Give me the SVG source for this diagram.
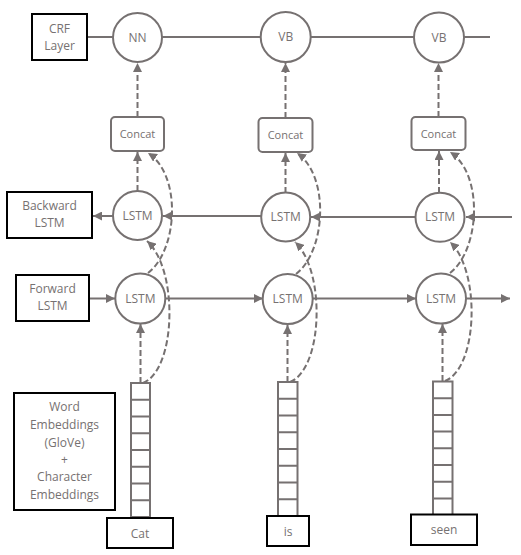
<svg xmlns="http://www.w3.org/2000/svg" width="521" height="555" viewBox="0 0 521 555">
<defs>
<style>
.ln{stroke:#767171;stroke-width:2;fill:none}
.dl{stroke:#767171;stroke-width:2;fill:none;stroke-dasharray:6,3}
.nd{stroke:#767171;stroke-width:2;fill:#fff}
.lb{stroke:#000;stroke-width:2;fill:#fff}
.tx{font-family:"Open Sans","Noto Sans",sans-serif;font-size:12px;fill:#767171;text-anchor:middle}
.ts{font-family:"Open Sans","Noto Sans",sans-serif;font-size:11px;fill:#767171;text-anchor:middle}
.emb{stroke:#767171;stroke-width:2;fill:#fff}
</style>
<marker id="ah" viewBox="0 0 10 10" refX="10" refY="5" markerWidth="9" markerHeight="9" markerUnits="userSpaceOnUse" orient="auto">
<path d="M0,0 L10,5 L0,10 z" fill="#767171"/>
</marker>
</defs>
<rect width="521" height="555" fill="#fff"/>
<g id="connectors">
<line class="ln" x1="87" y1="37" x2="490" y2="37"/>
<line class="ln" x1="512" y1="217" x2="466" y2="217" marker-end="url(#ah)"/>
<line class="ln" x1="415" y1="217" x2="311" y2="217" marker-end="url(#ah)"/>
<line class="ln" x1="261" y1="216" x2="163" y2="216" marker-end="url(#ah)"/>
<line class="ln" x1="113" y1="216" x2="93" y2="216" marker-end="url(#ah)"/>
<line class="ln" x1="89" y1="298.5" x2="115" y2="298.5" marker-end="url(#ah)"/>
<line class="ln" x1="165" y1="298.5" x2="263" y2="298.5" marker-end="url(#ah)"/>
<line class="ln" x1="313" y1="298.5" x2="416" y2="298.5" marker-end="url(#ah)"/>
<line class="ln" x1="466" y1="298.5" x2="510" y2="298.5" marker-end="url(#ah)"/>
<line class="dl" x1="137.5" y1="117" x2="137.5" y2="63" marker-end="url(#ah)"/>
<line class="dl" x1="285.5" y1="118" x2="285.5" y2="63" marker-end="url(#ah)"/>
<line class="dl" x1="438.5" y1="117" x2="438.5" y2="63" marker-end="url(#ah)"/>
<line class="dl" x1="137.5" y1="191" x2="137.5" y2="152" marker-end="url(#ah)"/>
<line class="dl" x1="285.5" y1="193" x2="285.5" y2="153" marker-end="url(#ah)"/>
<line class="dl" x1="439" y1="193" x2="439" y2="151" marker-end="url(#ah)"/>
<line class="dl" x1="140.5" y1="383" x2="140.5" y2="324" marker-end="url(#ah)"/>
<line class="dl" x1="287.5" y1="382" x2="287.5" y2="325" marker-end="url(#ah)"/>
<line class="dl" x1="442.5" y1="381" x2="442.5" y2="324" marker-end="url(#ah)"/>
<path class="dl" d="M143,383 C176,370 179,270 147,241" marker-end="url(#ah)"/>
<path class="dl" d="M290,382 C323,369 326,271 295,242" marker-end="url(#ah)"/>
<path class="dl" d="M445,381 C478,368 481,271 450,242" marker-end="url(#ah)"/>
<path class="dl" d="M148,273 C178,250 182,175 148,153" marker-end="url(#ah)"/>
<path class="dl" d="M296,274 C326,251 330,176 297,153" marker-end="url(#ah)"/>
<path class="dl" d="M450,273 C480,250 484,174 450,152" marker-end="url(#ah)"/>
</g>
<g id="crf-label"><rect class="lb" x="32" y="14" width="55" height="46"/><text class="tx" x="59.5" y="33">CRF</text><text class="tx" x="59.5" y="50">Layer</text></g>
<g id="nn1"><circle class="nd" cx="137.5" cy="37.5" r="24.5"/><text class="tx" x="137.5" y="41.5">NN</text></g>
<g id="vb2"><circle class="nd" cx="285.7" cy="37" r="25"/><text class="tx" x="285.7" y="41">VB</text></g>
<g id="vb3"><circle class="nd" cx="439" cy="37.5" r="25"/><text class="tx" x="439" y="41.5">VB</text></g>
<g id="concat1"><rect class="nd" x="111" y="117" width="53" height="34" rx="4"/><text class="ts" x="137.5" y="138">Concat</text></g>
<g id="concat2"><rect class="nd" x="258.5" y="118" width="54" height="34" rx="4"/><text class="ts" x="285.5" y="139">Concat</text></g>
<g id="concat3"><rect class="nd" x="411.5" y="117" width="54" height="33" rx="4"/><text class="ts" x="438.5" y="137.5">Concat</text></g>
<g id="backward-label"><rect class="lb" x="7" y="192" width="85" height="46"/><text class="tx" x="49.5" y="210">Backward</text><text class="tx" x="49.5" y="227">LSTM</text></g>
<g id="blstm1"><circle class="nd" cx="137.5" cy="215.5" r="24.5"/><text class="tx" x="137.5" y="219.5">LSTM</text></g>
<g id="blstm2"><circle class="nd" cx="285.7" cy="217" r="24.5"/><text class="tx" x="285.7" y="221">LSTM</text></g>
<g id="blstm3"><circle class="nd" cx="440" cy="217.3" r="24.5"/><text class="tx" x="440" y="221.3">LSTM</text></g>
<g id="forward-label"><rect class="lb" x="16" y="275" width="73" height="46"/><text class="tx" x="52.5" y="293">Forward</text><text class="tx" x="52.5" y="310">LSTM</text></g>
<g id="flstm1"><circle class="nd" cx="140.3" cy="298.5" r="25"/><text class="tx" x="140.3" y="302.5">LSTM</text></g>
<g id="flstm2"><circle class="nd" cx="287.7" cy="299" r="25"/><text class="tx" x="287.7" y="303">LSTM</text></g>
<g id="flstm3"><circle class="nd" cx="441" cy="298.5" r="25"/><text class="tx" x="441" y="302.5">LSTM</text></g>
<g id="embedding-label"><rect class="lb" x="14" y="393" width="101" height="117"/>
<text class="tx" x="64.5" y="411">Word</text><text class="tx" x="64.5" y="429">Embeddings</text><text class="tx" x="64.5" y="447">(GloVe)</text><text class="tx" x="64.5" y="464">+</text><text class="tx" x="64.5" y="481">Character</text><text class="tx" x="64.5" y="499">Embeddings</text></g>
<g id="emb1"><rect class="emb" x="131" y="383" width="19" height="134"/>
<path class="ln" d="M131,399.75H150M131,416.5H150M131,433.25H150M131,450H150M131,466.75H150M131,483.5H150M131,500.25H150"/></g>
<g id="emb2"><rect class="emb" x="278" y="382" width="19.5" height="134"/>
<path class="ln" d="M278,398.75H297.5M278,415.5H297.5M278,432.25H297.5M278,449H297.5M278,465.75H297.5M278,482.5H297.5M278,499.25H297.5"/></g>
<g id="emb3"><rect class="emb" x="433" y="381.5" width="19.5" height="133.5"/>
<path class="ln" d="M433,398.2H452.5M433,414.9H452.5M433,431.6H452.5M433,448.3H452.5M433,465H452.5M433,481.7H452.5M433,498.4H452.5"/></g>
<g id="word-cat"><rect class="lb" x="107" y="518" width="66" height="30"/><text class="tx" x="140" y="537.5">Cat</text></g>
<g id="word-is"><rect class="lb" x="267" y="516" width="42" height="30"/><text class="tx" x="288" y="535.5">is</text></g>
<g id="word-seen"><rect class="lb" x="411" y="514.5" width="66" height="30.5"/><text class="tx" x="444" y="534">seen</text></g>
</svg>
